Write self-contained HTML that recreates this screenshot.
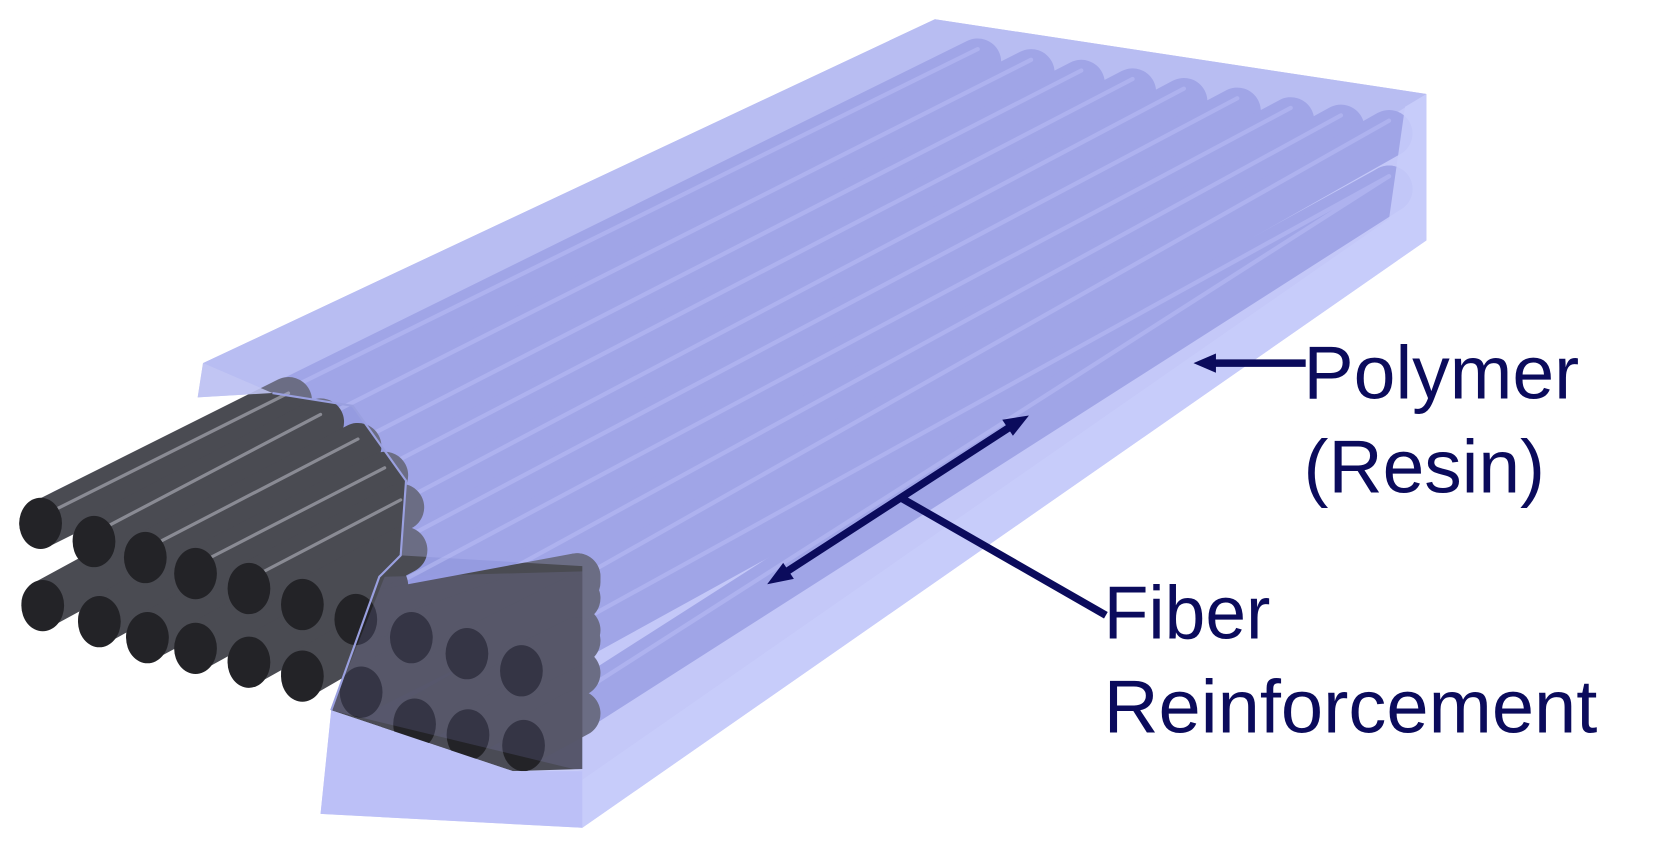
<!DOCTYPE html>
<html><head><style>
html,body{margin:0;padding:0;background:#fff;}
svg{display:block;}
</style></head><body>
<svg width="1654" height="847" viewBox="0 0 1548 793" preserveAspectRatio="none" xmlns="http://www.w3.org/2000/svg">
<polygon points="875,18 1335,88 1335,225 545,775 300,762 310,665 355,540 380,450 330,380 255,368 185,372 190,340" fill="#c9cdf8"/>
<polygon points="875,18 1335,88 1300,110 560,540 380,520 380,450 330,380 255,368 190,340" fill="#b8bdf0"/>
<polygon points="355,540 545,535 545,720 480,722 310,665" fill="#4a4b55"/>
<g stroke-linecap="round" fill="none">
<g stroke="#959be0" stroke-width="44">
<line x1="60" y1="480" x2="915" y2="58"/>
<line x1="110" y1="500" x2="965" y2="68"/>
<line x1="160" y1="515" x2="1012" y2="78"/>
<line x1="205" y1="530" x2="1060" y2="86"/>
<line x1="255" y1="545" x2="1108" y2="95"/>
<line x1="305" y1="555" x2="1158" y2="104"/>
<line x1="350" y1="570" x2="1208" y2="113"/>
<line x1="405" y1="585" x2="1255" y2="120"/>
<line x1="460" y1="600" x2="1300" y2="125"/>
<line x1="505" y1="615" x2="1300" y2="177"/>
<line x1="505" y1="685" x2="1300" y2="177"/>
</g>
<g stroke="#aeb3ee" stroke-width="4" opacity="0.8">
<line x1="60" y1="468" x2="915" y2="46"/>
<line x1="110" y1="488" x2="965" y2="56"/>
<line x1="160" y1="503" x2="1012" y2="66"/>
<line x1="205" y1="518" x2="1060" y2="74"/>
<line x1="255" y1="533" x2="1108" y2="83"/>
<line x1="305" y1="543" x2="1158" y2="92"/>
<line x1="350" y1="558" x2="1208" y2="101"/>
<line x1="405" y1="573" x2="1255" y2="108"/>
<line x1="460" y1="588" x2="1300" y2="113"/>
<line x1="505" y1="603" x2="1300" y2="165"/>
<line x1="505" y1="673" x2="1300" y2="165"/>
</g>
<g stroke="#4a4b52" stroke-width="44">
<line x1="42" y1="565" x2="180" y2="490"/>
<line x1="95" y1="580" x2="230" y2="505"/>
<line x1="140" y1="595" x2="280" y2="520"/>
<line x1="185" y1="605" x2="330" y2="525"/>
<line x1="235" y1="618" x2="360" y2="548"/>
<line x1="285" y1="630" x2="380" y2="575"/>
<line x1="340" y1="645" x2="540" y2="545"/>
<line x1="390" y1="675" x2="540" y2="590"/>
<line x1="440" y1="685" x2="540" y2="630"/>
<line x1="490" y1="695" x2="540" y2="668"/>
<line x1="40" y1="490" x2="270" y2="375"/>
<line x1="90" y1="505" x2="300" y2="395"/>
<line x1="138" y1="520" x2="335" y2="418"/>
<line x1="185" y1="535" x2="360" y2="445"/>
<line x1="235" y1="548" x2="375" y2="475"/>
<line x1="285" y1="565" x2="378" y2="515"/>
<line x1="335" y1="578" x2="540" y2="540"/>
<line x1="385" y1="595" x2="540" y2="540"/>
<line x1="440" y1="610" x2="540" y2="560"/>
<line x1="490" y1="625" x2="540" y2="600"/>
</g>
<g stroke="#8a8b94" stroke-width="3">
<line x1="50" y1="478" x2="270" y2="368"/>
<line x1="100" y1="493" x2="300" y2="388"/>
<line x1="148" y1="508" x2="335" y2="411"/>
<line x1="195" y1="523" x2="360" y2="438"/>
<line x1="245" y1="536" x2="375" y2="468"/>
</g>
</g>
<g fill="#232327">
<ellipse cx="38" cy="490" rx="20" ry="24"/>
<ellipse cx="88" cy="507" rx="20" ry="24"/>
<ellipse cx="136" cy="522" rx="20" ry="24"/>
<ellipse cx="183" cy="537" rx="20" ry="24"/>
<ellipse cx="233" cy="551" rx="20" ry="24"/>
<ellipse cx="283" cy="566" rx="20" ry="24"/>
<ellipse cx="333" cy="580" rx="20" ry="24"/>
<ellipse cx="385" cy="597" rx="20" ry="24"/>
<ellipse cx="437" cy="612" rx="20" ry="24"/>
<ellipse cx="488" cy="628" rx="20" ry="24"/>
<ellipse cx="40" cy="567" rx="20" ry="24"/>
<ellipse cx="93" cy="582" rx="20" ry="24"/>
<ellipse cx="138" cy="597" rx="20" ry="24"/>
<ellipse cx="183" cy="607" rx="20" ry="24"/>
<ellipse cx="233" cy="620" rx="20" ry="24"/>
<ellipse cx="283" cy="633" rx="20" ry="24"/>
<ellipse cx="338" cy="648" rx="20" ry="24"/>
<ellipse cx="388" cy="678" rx="20" ry="24"/>
<ellipse cx="438" cy="688" rx="20" ry="24"/>
<ellipse cx="490" cy="698" rx="20" ry="24"/>
</g>
<polygon points="875,18 1335,88 1335,225 545,775 545,530 375,520 380,450 330,380 255,368 190,340" fill="#b9befa" opacity="0.3"/>
<polygon points="1335,88 1335,225 545,775 545,730 1300,205 1315,100" fill="#c8ccfa" opacity="0.85"/>
<polygon points="545,775 300,762 310,665 480,722 545,722" fill="#bcc0f7"/>
<polygon points="545,722 310,665 360,540 545,535" fill="#9ea4f0" opacity="0.15"/>
<polygon points="190,340 255,368 185,372" fill="#c0c4f2" opacity="0.9"/>
<polyline points="255,368 330,380 380,450 375,520 355,540 310,665" fill="none" stroke="#9aa0e0" stroke-width="2"/>
<g stroke="#0b0b5c" stroke-width="7" fill="#0b0b5c">
<line x1="1222" y1="340" x2="1135" y2="340"/>
<polygon points="1117,340 1138,331 1138,349" stroke="none"/>
<line x1="735" y1="536" x2="948" y2="398"/>
<polygon points="718,547 733,527 743,542" stroke="none"/>
<polygon points="963,389 938,393 948,408" stroke="none"/>
<line x1="843" y1="466" x2="1035" y2="576"/>
</g>
<g font-family="'Liberation Sans', sans-serif" fill="#0b0b5c" font-size="70">
<text x="1220" y="373" textLength="258" lengthAdjust="spacingAndGlyphs">Polymer</text>
<text x="1220" y="461" textLength="226" lengthAdjust="spacingAndGlyphs">(Resin)</text>
<text x="1033" y="598" textLength="156" lengthAdjust="spacingAndGlyphs">Fiber</text>
<text x="1033" y="686" textLength="462" lengthAdjust="spacingAndGlyphs">Reinforcement</text>
</g>
</svg>
</body></html>
